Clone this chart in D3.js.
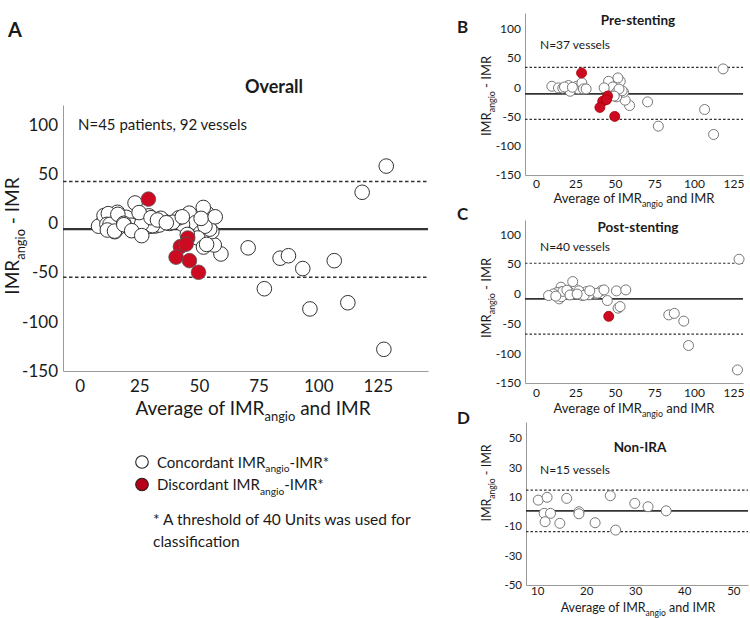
<!DOCTYPE html>
<html><head><meta charset="utf-8">
<script src="https://cdn.jsdelivr.net/npm/d3@7"></script>
<style>
body{margin:0;background:#fff}
svg{display:block}
text{font-family:Lato,"Open Sans",sans-serif;fill:#1a1a1a}
</style>
</head><body>
<svg id="chart" width="750" height="618"></svg>
<script>
// ---------------- DATA ----------------
// Pre-stenting (panel B): [average, difference]
const preConcordant = [
  [118.4,31.4],[106.7,-38],[112.4,-80.7],[77.4,-66.5],[70.6,-25],
  [59.2,-31.2],[56.4,-22.1],[55.4,-8.5],[53.3,10.2],[51.8,16],[45.9,10.2],[48.6,0.6],
  [43.1,-1],[50.7,-9.6],[51,-16.4],[54.5,-6],[52.5,-3],[49.5,-15],
  [10,1.7],[14.2,-1],[16.9,-1.5],[19.5,-1],[20.5,3],[21.6,-6.8],[25.8,1.7],[26.8,-2.8],
  [29,7.5],[30,-2.8],[31.7,-2.8],[18,0.5],[23,0]
];
const preDiscordant = [[28.8,24.5],[45.3,-15],[42.2,-23.8],[44.6,-21.3],[40.4,-34.5],[49.8,-49.8]];

// Post-stenting (panel C)
const postConcordant = [
  [128.5,58],[127.5,-128],[96.5,-87],[93.5,-46],[84,-35.5],[87.5,-33],
  [45.1,-11.4],[51.9,-24.2],[53.2,-21.5],[50.9,4.9],[56.8,6.5],[41.5,5.4],[37.7,-0.2],
  [35.5,2],[33.4,-1.8],[31.9,3.7],[29.2,-3],[24.9,1],[24.9,7.7],[23.2,20.5],[20.6,3.7],
  [18.5,1],[15.8,11.1],[14.7,-8.6],[15.3,2.7],[13.2,2],[11,-0.2],[7.9,-3],[16,-5],
  [17,4],[19.5,6],[27,5],[30.5,-2.5],[39,1],[43,6.5],[21.5,-2],[26,-0.5],[34,5],[12.5,-4]
];
const postDiscordant = [[46,-38]];

// Non-IRA (panel D)
const nonIraConcordant = [
  [10.2,7.8],[12,9.7],[11.4,-1.2],[12.7,-1.2],[11.6,-6.9],[14.6,-8],[16,9],[18.5,-0.1],
  [18.5,-1.5],[21.8,-7.6],[24.9,10.8],[26,-12.6],[29.9,5.6],[32.6,3.3],[36.3,0.5]
];
const nonIraDiscordant = [];

// Overall (panel A) = all vessels
const overallConcordant = preConcordant.concat(postConcordant, nonIraConcordant);
const overallDiscordant = preDiscordant.concat(postDiscordant, nonIraDiscordant);

// Bias and limits of agreement: [mean, upper, lower]
const overallLines = [-6, 42.4, -54.8];
const preLines = [-11.3, 34, -55];
const postLines = [-8.6, 51.3, -67.8];
const nonIraLines = [0.5, 14.6, -13.7];

// Tick labels
const ticksXWide = [0, 25, 50, 75, 100, 125];
const ticksYWide = [100, 50, 0, -50, -100, -150];
const ticksXNonIra = [10, 20, 30, 40, 50];
const ticksYNonIra = [50, 30, 10, -10, -30, -50];

// ---------------- DRAW ----------------
const svg = d3.select("#chart");
const RED = "#cc0a22";

function rich(g, x, y, size, segs, anchor, extra) {
  const t = g.append("text").attr("x", x).attr("y", y).attr("font-size", size)
    .attr("text-anchor", anchor || "start");
  if (extra) extra(t);
  let sub = false;
  segs.forEach(([s, isSub]) => {
    const ts = t.append("tspan").text(s);
    if (isSub) {
      ts.attr("font-size", size * 0.68);
      if (!sub) ts.attr("dy", size * 0.3);
      sub = true;
    } else {
      if (sub) ts.attr("dy", -size * 0.3);
      sub = false;
    }
  });
  return t;
}

const xTitleSegs = [["Average of IMR", false], ["angio", true], [" and IMR", false]];
const yTitleSegs = [["IMR", false], ["angio", true], [" - IMR", false]];

function panel(p) {
  const x = d3.scaleLinear().domain(p.xDomain).range([p.left, p.right]);
  const y = d3.scaleLinear().domain(p.yDomain).range([p.bottom, p.top]);
  const g = svg.append("g");

  const ax = g.append("g").attr("transform", `translate(0,${p.bottom})`)
    .call(d3.axisBottom(x).tickValues(p.xTicks).tickSize(0).tickPadding(p.xPad).tickFormat(d3.format("d")));
  const ay = g.append("g").attr("transform", `translate(${p.left},0)`)
    .call(d3.axisLeft(y).tickValues(p.yTicks).tickSize(0).tickPadding(p.yPad).tickFormat(d => d < 0 ? "-" + Math.abs(d) : d));
  [ax, ay].forEach(a => {
    a.attr("font-family", "Lato, 'Open Sans', sans-serif").attr("font-size", p.tickFont);
    a.select(".domain").attr("stroke", "#9a9a9a").attr("stroke-width", 1);
    a.selectAll("text").attr("fill", "#222");
  });

  // bias / limits of agreement
  p.lines.forEach((v, i) => {
    g.append("line")
      .attr("x1", p.left).attr("x2", p.right)
      .attr("y1", y(v)).attr("y2", y(v))
      .attr("stroke", "#333")
      .attr("stroke-width", i === 0 ? p.meanW : p.dashW)
      .attr("stroke-dasharray", i === 0 ? null : p.dash);
  });

  g.append("g").selectAll("circle").data(p.conc).join("circle")
    .attr("cx", d => x(d[0])).attr("cy", d => y(d[1])).attr("r", p.r)
    .attr("fill", "#fff").attr("stroke", p.stroke).attr("stroke-width", 1);
  g.append("g").selectAll("circle").data(p.disc).join("circle")
    .attr("cx", d => x(d[0])).attr("cy", d => y(d[1])).attr("r", p.r)
    .attr("fill", RED).attr("stroke", p.redStroke).attr("stroke-width", 0.8);

  // titles
  g.append("text").attr("x", p.titleX).attr("y", p.titleY).attr("text-anchor", "middle")
    .attr("font-size", p.titleFont).attr("font-weight", "bold").text(p.title);
  g.append("text").attr("x", p.nX).attr("y", p.nY).attr("font-size", p.nFont).text(p.nText);
  rich(g, p.xtX, p.xtY, p.axFont, xTitleSegs, "middle");
  rich(g, 0, 0, p.axFont, yTitleSegs, "middle",
    t => t.attr("transform", `translate(${p.ytX},${p.ytY}) rotate(-90)`));
  g.append("text").attr("x", p.letterX).attr("y", p.letterY)
    .attr("font-size", p.letterFont).attr("font-weight", "bold").text(p.letter);
}

panel({
  letter: "A", letterX: 8, letterY: 37, letterFont: 20,
  xDomain: [-7, 146], yDomain: [-150, 120], left: 63, right: 428, top: 105, bottom: 371,
  xTicks: ticksXWide, yTicks: ticksYWide, xPad: 9, yPad: 5, tickFont: 17,
  lines: overallLines, meanW: 2.2, dashW: 1.6, dash: "3.5,2.5",
  conc: overallConcordant, disc: overallDiscordant, r: 7.3, stroke: "#333", redStroke: "#555",
  title: "Overall", titleX: 274, titleY: 93, titleFont: 18,
  nText: "N=45 patients, 92 vessels", nX: 78, nY: 130, nFont: 15,
  axFont: 19, xtX: 253, xtY: 415, ytX: 19, ytY: 236
});

panel({
  letter: "B", letterX: 457, letterY: 33, letterFont: 17,
  xDomain: [-7, 131], yDomain: [-150, 127], left: 525, right: 743, top: 13, bottom: 175,
  xTicks: ticksXWide, yTicks: ticksYWide, xPad: 4, yPad: 4, tickFont: 12,
  lines: preLines, meanW: 1.6, dashW: 1.2, dash: "2.5,2",
  conc: preConcordant, disc: preDiscordant, r: 5, stroke: "#777", redStroke: "#a00",
  title: "Pre-stenting", titleX: 638, titleY: 25, titleFont: 13.5,
  nText: "N=37 vessels", nX: 540, nY: 49, nFont: 12,
  axFont: 13, xtX: 634, xtY: 203, ytX: 491, ytY: 96
});

panel({
  letter: "C", letterX: 457, letterY: 220, letterFont: 17,
  xDomain: [-7, 131], yDomain: [-150, 124], left: 525, right: 743, top: 220, bottom: 383,
  xTicks: ticksXWide, yTicks: ticksYWide, xPad: 5, yPad: 4, tickFont: 12,
  lines: postLines, meanW: 1.6, dashW: 1.2, dash: "2.5,2",
  conc: postConcordant, disc: postDiscordant, r: 5, stroke: "#777", redStroke: "#a00",
  title: "Post-stenting", titleX: 638, titleY: 232, titleFont: 13.5,
  nText: "N=40 vessels", nX: 540, nY: 251, nFont: 12,
  axFont: 13, xtX: 634, xtY: 413, ytX: 491, ytY: 298
});

panel({
  letter: "D", letterX: 457, letterY: 424, letterFont: 17,
  xDomain: [7.7, 53], yDomain: [-50, 61], left: 526, right: 748, top: 422, bottom: 585,
  xTicks: ticksXNonIra, yTicks: ticksYNonIra, xPad: 2, yPad: 4, tickFont: 11.5,
  lines: nonIraLines, meanW: 1.6, dashW: 1.2, dash: "2.5,2",
  conc: nonIraConcordant, disc: nonIraDiscordant, r: 5, stroke: "#777", redStroke: "#a00",
  title: "Non-IRA", titleX: 640, titleY: 452, titleFont: 13.5,
  nText: "N=15 vessels", nX: 540, nY: 474, nFont: 12,
  axFont: 12.5, xtX: 638, xtY: 612, ytX: 491, ytY: 483
});

// ---------------- LEGEND ----------------
const lg = svg.append("g");
const legendItems = [
  { fill: "#fff", segs: [["Concordant IMR", false], ["angio", true], ["-IMR*", false]] },
  { fill: "#b8001a", segs: [["Discordant IMR", false], ["angio", true], ["-IMR*", false]] }
];
legendItems.forEach((it, i) => {
  const cy = 462 + i * 22.5;
  lg.append("circle").attr("cx", 142).attr("cy", cy).attr("r", 6.3)
    .attr("fill", it.fill).attr("stroke", "#222").attr("stroke-width", 1.1);
  rich(lg, 157, cy + 5.5, 15, it.segs, "start");
});
lg.append("text").attr("x", 153).attr("y", 525).attr("font-size", 15.5)
  .text("* A threshold of 40 Units was used for");
lg.append("text").attr("x", 153).attr("y", 547).attr("font-size", 15.5)
  .text("classification");
</script>
</body></html>
